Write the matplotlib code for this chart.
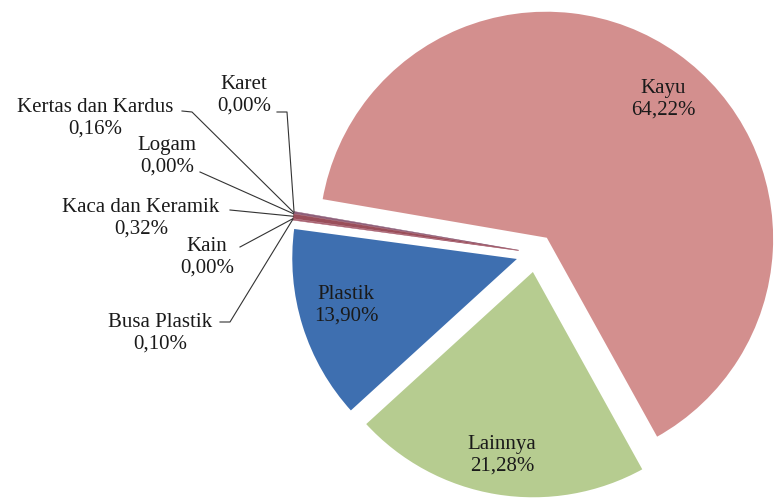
import matplotlib
matplotlib.use('Agg')
import matplotlib.pyplot as plt
import numpy as np

categories = ['Kayu', 'Karet', 'Kertas dan Kardus', 'Logam', 'Kaca dan Keramik',
              'Kain', 'Busa Plastik', 'Plastik', 'Lainnya']
values = [64.22, 0.00, 0.16, 0.00, 0.32, 0.00, 0.10, 13.90, 21.28]
pct_labels = ['64,22%', '0,00%', '0,16%', '0,00%', '0,32%', '0,00%', '0,10%', '13,90%', '21,28%']
colors = ['#D38F8E', '#A0526E', '#8E5F7A', '#7F5A80', '#9A4E5A', '#8C6070', '#A86070',
          '#3E6FB0', '#B6CC90']
explode_frac = [0.077] * 9

# layout (image pixel coords, y downward)
label_pos = {
    'Kayu': (663, 99), 'Lainnya': (502, 455), 'Plastik': (346, 305),
    'Karet': (244, 95), 'Kertas dan Kardus': (95, 118), 'Logam': (167, 156),
    'Kaca dan Keramik': (141, 218), 'Kain': (207, 257), 'Busa Plastik': (160, 333),
}
leader_pts = {
    'Karet': [(277, 113), (287, 113)],
    'Kertas dan Kardus': [(182, 112), (192, 113)],
    'Logam': [(200, 173)],
    'Kaca dan Keramik': [(230, 211)],
    'Kain': [(240, 248)],
    'Busa Plastik': [(220, 323), (230, 323)],
}

W, H = 774, 502
fig = plt.figure(figsize=(7.74, 5.02), dpi=100)
ax = fig.add_axes([0, 0, 1, 1])
cx, cy, R = 536, H - 254, 228
wedges, _ = ax.pie(values, explode=[e * R for e in explode_frac], colors=colors,
                   startangle=299, counterclock=True, center=(cx, cy), radius=R,
                   wedgeprops=dict(edgecolor='white', linewidth=1.5), frame=True)
for w, v in zip(wedges, values):
    if v == 0:
        w.set_visible(False)
    elif v < 1:
        w.set_linewidth(0.3)
        w.set_edgecolor(w.get_facecolor())
ax.set_xlim(0, W)
ax.set_ylim(0, H)
ax.set_aspect('equal')
ax.axis('off')

font = dict(family='Liberation Serif', fontsize=15, color='#1a1a1a')
for name, pct, w in zip(categories, pct_labels, wedges):
    x, y = label_pos[name]
    ax.text(x, H - y, name + '\n' + pct, ha='center', va='center',
            linespacing=1.2, **font)
    if name in leader_pts:
        th = np.deg2rad((w.theta1 + w.theta2) / 2)
        ex = w.center[0] + w.r * np.cos(th)
        ey = w.center[1] + w.r * np.sin(th)
        pts = [(px, H - py) for px, py in leader_pts[name]] + [(ex, ey)]
        xs, ys = zip(*pts)
        ax.plot(xs, ys, color='#333333', lw=0.8)

fig.savefig('out.png', dpi=100)
